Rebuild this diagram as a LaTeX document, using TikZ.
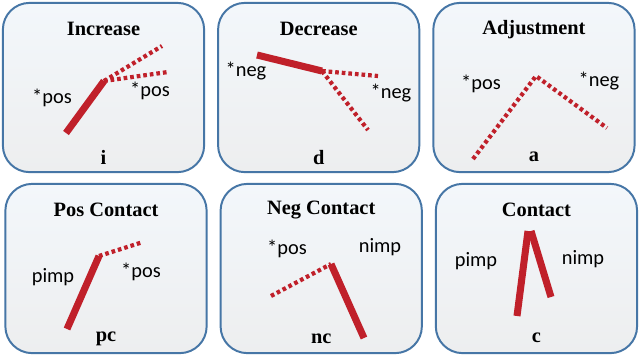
\documentclass[tikz,border=0pt]{standalone}
\usepackage{fontspec}
\setmainfont{Liberation Serif}
\newfontfamily\lblfont{Carlito}
\usepackage{xcolor}
\usepackage{tikz}
\usetikzlibrary{positioning,calc}
\definecolor{pred}{HTML}{C0202A}
\definecolor{pborder}{HTML}{4676A6}
\definecolor{ptop}{HTML}{F3F7FB}
\definecolor{pbot}{HTML}{EDEEEF}

\begin{document}
\begin{tikzpicture}[x=0.025cm,y=-0.025cm,
    panel/.style={draw=pborder,line width=1.4pt,rounded corners=19pt,
      top color=ptop,bottom color=pbot,minimum width=5.03cm,minimum height=4.23cm},
    ttl/.style={font=\fontsize{14.5}{17}\selectfont\bfseries,inner sep=0pt},
    lbl/.style={font=\lblfont\fontsize{14.5}{17}\selectfont,inner sep=0pt},
    firm/.style={draw=pred,line width=5pt},
    weak/.style={draw=pred,line width=3pt,dash pattern=on 2.6pt off 2.1pt}]
  \fill[white] (0,0) rectangle (640,357);
  \useasboundingbox (0,0) rectangle (640,357);

  \node[panel] (inc) at (103.5,87.5) {};
  \node[panel,right=0.3cm of inc] (dec) {};
  \node[panel,right=0.3cm of dec] (adj) {};
  \node[panel] (posc) at (106,268.5) {};
  \node[panel,right=0.3cm of posc] (negc) {};
  \node[panel,right=0.3cm of negc] (cont) {};

  \node[ttl] (inct) at ($(inc.north)+(0,27)$) {Increase};
  \node[ttl] (dect) at ($(dec.north)+(0,27)$) {Decrease};
  \node[ttl] (adjt) at ($(adj.north)+(0,28)$) {Adjustment};
  \node[ttl] (posct) at ($(posc.north)+(0,27)$) {Pos Contact};
  \node[ttl] (negct) at ($(negc.north)+(0,27)$) {Neg Contact};
  \node[ttl] (contt) at ($(cont.north)+(0,27)$) {Contact};

  \node[ttl] (incb) at ($(inc.south)+(0,-16)$) {i};
  \node[ttl] (decb) at ($(dec.south)+(0,-16)$) {d};
  \node[ttl] (adjb) at ($(adj.south)+(0,-16)$) {a};
  \node[ttl] (poscb) at ($(posc.south)+(0,-15)$) {pc};
  \node[ttl] (negcb) at ($(negc.south)+(0,-15)$) {nc};
  \node[ttl] (contb) at ($(cont.south)+(0,-16)$) {c};

  % increase
  \coordinate (i1) at (66,133);
  \coordinate (i2) at (104,81);
  \coordinate (i3) at (162,46);
  \coordinate (i4) at (168,72);
  \draw[weak] (i2) -- (i3);
  \draw[weak] (i2) -- (i4);
  \draw[firm] (i1) -- (i2);
  \node[lbl] (il) at (52,98) {*pos};
  \node[lbl] (ir) at (150,91) {*pos};

  % decrease
  \coordinate (d1) at (257,55);
  \coordinate (d2) at (322,71);
  \coordinate (d3) at (378,76);
  \coordinate (d4) at (368,130);
  \draw[weak] (d2) -- (d3);
  \draw[weak] (d2) -- (d4);
  \draw[firm] (d1) -- (d2);
  \node[lbl] (dl) at (246,71) {*neg};
  \node[lbl] (dr) at (391,93) {*neg};

  % adjustment
  \coordinate (a1) at (473,159);
  \coordinate (a2) at (536,76);
  \coordinate (a3) at (607,128);
  \draw[weak] (a1) -- (a2) -- (a3);
  \node[lbl] (al) at (481,84) {*pos};
  \node[lbl] (ar) at (599,81) {*neg};

  % pos contact
  \coordinate (p1) at (67,329);
  \coordinate (p2) at (99,256);
  \coordinate (p3) at (143,242);
  \draw[weak] (p2) -- (p3);
  \draw[firm] (p1) -- (p2);
  \node[lbl] (pl) at (53,277) {pimp};
  \node[lbl] (pr) at (141,272) {*pos};

  % neg contact
  \coordinate (n1) at (271,296);
  \coordinate (n2) at (331,264);
  \coordinate (n3) at (364,338);
  \draw[weak] (n1) -- (n2);
  \draw[firm] (n2) -- (n3);
  \node[lbl] (nl) at (287,249) {*pos};
  \node[lbl] (nr) at (380,247) {nimp};

  % contact
  \coordinate (c1) at (517,316);
  \coordinate (c2) at (528,231);
  \coordinate (c3) at (531,231);
  \coordinate (c4) at (551,297);
  \draw[firm] (c1) -- (c2);
  \draw[firm] (c3) -- (c4);
  \node[lbl] (cl) at (476,261) {pimp};
  \node[lbl] (cr) at (583,259) {nimp};
\end{tikzpicture}
\end{document}
